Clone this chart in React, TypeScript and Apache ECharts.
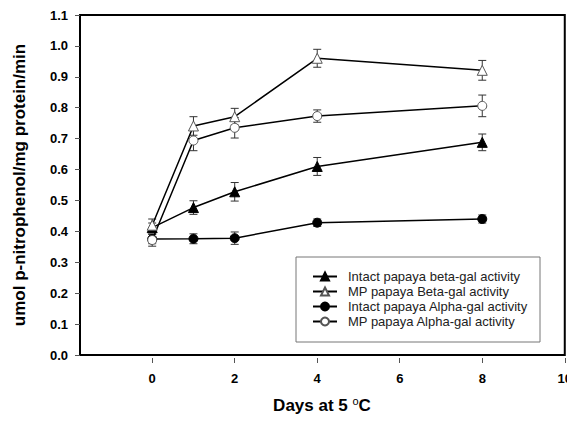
import React, { useEffect, useRef } from "react";
import * as echarts from "echarts";

const days = [0, 1, 2, 4, 8];
const intactBeta = [0.412, 0.477, 0.528, 0.61, 0.688];
const intactBetaErr = [0.015, 0.022, 0.03, 0.029, 0.027];
const mpBeta = [0.42, 0.741, 0.771, 0.96, 0.921];
const mpBetaErr = [0.02, 0.03, 0.027, 0.029, 0.032];
const intactAlpha = [0.375, 0.376, 0.378, 0.428, 0.44];
const intactAlphaErr = [0.015, 0.016, 0.02, 0.012, 0.013];
const mpAlpha = [0.372, 0.694, 0.735, 0.773, 0.806];
const mpAlphaErr = [0.02, 0.033, 0.033, 0.02, 0.035];
const xTicks = [0, 2, 4, 6, 8, 10];
const names = [
  "Intact papaya beta-gal activity",
  "MP papaya Beta-gal activity",
  "Intact papaya Alpha-gal activity",
  "MP papaya Alpha-gal activity",
];

const FONT = "Arial, 'Liberation Sans', sans-serif";

function errorSeries(vals: number[], errs: number[]) {
  return {
    type: "custom",
    silent: true,
    z: 1,
    encode: { x: 0, y: 1 },
    data: days.map((d, i) => [d, vals[i], errs[i]]),
    renderItem: (params: any, api: any) => {
      const x = api.value(0);
      const y = api.value(1);
      const e = api.value(2);
      const top = api.coord([x, y + e]);
      const bot = api.coord([x, y - e]);
      const hw = 4;
      const st = { stroke: "#333", lineWidth: 1 };
      return {
        type: "group",
        children: [
          { type: "line", shape: { x1: top[0], y1: top[1], x2: bot[0], y2: bot[1] }, style: st },
          { type: "line", shape: { x1: top[0] - hw, y1: top[1], x2: top[0] + hw, y2: top[1] }, style: st },
          { type: "line", shape: { x1: bot[0] - hw, y1: bot[1], x2: bot[0] + hw, y2: bot[1] }, style: st },
        ],
      };
    },
  };
}

function lineSeries(name: string, vals: number[], symbol: string, filled: boolean) {
  return {
    name,
    type: "line",
    z: filled ? 3 : 4,
    data: days.map((d, i) => [d, vals[i]]),
    symbol,
    symbolSize: symbol === "triangle" ? 10 : 9,
    showAllSymbol: true,
    lineStyle: { color: "#000", width: 1.5 },
    itemStyle: filled
      ? { color: "#000", borderColor: "#000", borderWidth: 1 }
      : { color: "#fff", borderColor: "#555", borderWidth: 1 },
  };
}

export default function App() {
  const ref = useRef<HTMLDivElement>(null);
  useEffect(() => {
    if (!ref.current) return;
    const chart = echarts.init(ref.current, null, { renderer: "svg" });
    chart.setOption({
      animation: false,
      backgroundColor: "#fff",
      grid: {
        left: 80,
        right: 9,
        top: 15,
        bottom: 69,
        show: true,
        borderColor: "#000",
        borderWidth: 2,
        backgroundColor: "transparent",
      },
      xAxis: {
        type: "value",
        min: -1.75,
        max: 10,
        offset: 3,
        splitLine: { show: false },
        axisLine: { show: false, onZero: false },
        axisTick: {
          show: true,
          length: 5,
          customValues: xTicks,
          lineStyle: { color: "#555", width: 1 },
        },
        axisLabel: {
          customValues: xTicks,
          margin: 14,
          color: "#000",
          fontWeight: "bold",
          fontSize: 13,
          fontFamily: FONT,
        },
      },
      yAxis: {
        type: "value",
        min: 0,
        max: 1.1,
        interval: 0.1,
        splitLine: { show: false },
        axisLine: { show: true, onZero: false, lineStyle: { color: "#000", width: 2 } },
        axisTick: { show: true, length: 5, lineStyle: { color: "#555", width: 1 } },
        axisLabel: {
          margin: 12,
          color: "#000",
          fontWeight: "bold",
          fontSize: 13,
          fontFamily: FONT,
          formatter: (v: number) => v.toFixed(1),
        },
        name: "umol p-nitrophenol/mg protein/min",
        nameLocation: "middle",
        nameGap: 52,
        nameTextStyle: {
          color: "#000",
          fontWeight: "bold",
          fontSize: 17,
          fontFamily: FONT,
        },
      },
      legend: {
        data: names,
        orient: "vertical",
        left: 307,
        top: 265,
        itemWidth: 24,
        itemHeight: 10,
        itemGap: 2,
        textStyle: { color: "#222", fontSize: 13, fontFamily: FONT, padding: [0, 0, 0, 6] },
        selectedMode: false,
      },
      graphic: [
        {
          type: "rect",
          z: 0,
          shape: { x: 296, y: 257, width: 244, height: 85 },
          style: { fill: "#fff", stroke: "#777", lineWidth: 1 },
        },
        {
          type: "text",
          x: 322,
          y: 405,
          style: {
            text: "{a|Days at 5 }{s|o}{a|C}",
            align: "center",
            verticalAlign: "middle",
            rich: {
              a: { fontSize: 17, fontWeight: "bold", fontFamily: FONT, fill: "#000", lineHeight: 20 },
              s: { fontSize: 11, fontFamily: FONT, fill: "#000", verticalAlign: "top", lineHeight: 20 },
            },
          },
        },
      ],
      series: [
        errorSeries(intactBeta, intactBetaErr),
        errorSeries(mpBeta, mpBetaErr),
        errorSeries(intactAlpha, intactAlphaErr),
        errorSeries(mpAlpha, mpAlphaErr),
        lineSeries(names[0], intactBeta, "triangle", true),
        lineSeries(names[1], mpBeta, "triangle", false),
        lineSeries(names[2], intactAlpha, "circle", true),
        lineSeries(names[3], mpAlpha, "circle", false),
      ],
    });
    return () => chart.dispose();
  }, []);
  return <div ref={ref} style={{ width: 575, height: 424, margin: -8 }} />;
}
